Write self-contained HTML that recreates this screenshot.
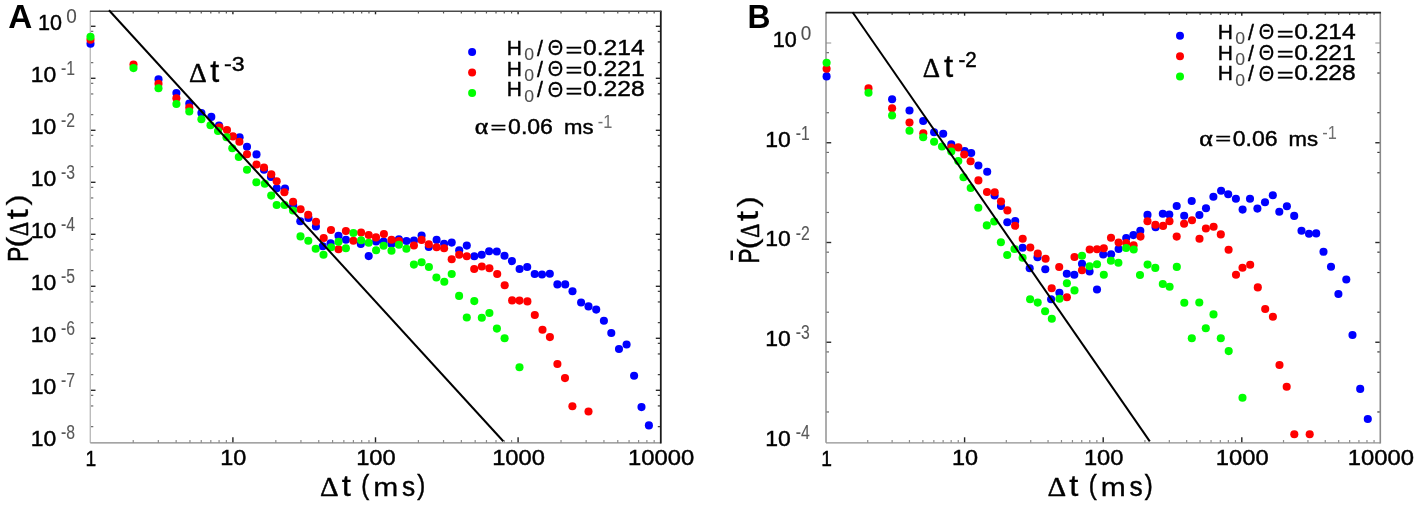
<!DOCTYPE html>
<html><head><meta charset="utf-8"><title>Figure</title>
<style>
html,body{margin:0;padding:0;background:#fff;}
body{width:1417px;height:505px;overflow:hidden;font-family:"Liberation Sans",sans-serif;}
svg{will-change:transform;}
svg text{white-space:pre;}
</style></head><body>
<svg width="1417" height="505" viewBox="0 0 1417 505" style="display:block">
<rect width="1417" height="505" fill="#fff"/>
<line x1="133.23" y1="442.80" x2="133.23" y2="440.00" stroke="#8c8c8c" stroke-width="1.2"/>
<line x1="133.23" y1="11.30" x2="133.23" y2="13.50" stroke="#555" stroke-width="1.2"/>
<line x1="158.34" y1="442.80" x2="158.34" y2="440.00" stroke="#8c8c8c" stroke-width="1.2"/>
<line x1="158.34" y1="11.30" x2="158.34" y2="13.50" stroke="#555" stroke-width="1.2"/>
<line x1="176.15" y1="442.80" x2="176.15" y2="440.00" stroke="#8c8c8c" stroke-width="1.2"/>
<line x1="176.15" y1="11.30" x2="176.15" y2="13.50" stroke="#555" stroke-width="1.2"/>
<line x1="189.97" y1="442.80" x2="189.97" y2="440.00" stroke="#8c8c8c" stroke-width="1.2"/>
<line x1="189.97" y1="11.30" x2="189.97" y2="13.50" stroke="#555" stroke-width="1.2"/>
<line x1="201.26" y1="442.80" x2="201.26" y2="440.00" stroke="#8c8c8c" stroke-width="1.2"/>
<line x1="201.26" y1="11.30" x2="201.26" y2="13.50" stroke="#555" stroke-width="1.2"/>
<line x1="210.81" y1="442.80" x2="210.81" y2="440.00" stroke="#8c8c8c" stroke-width="1.2"/>
<line x1="210.81" y1="11.30" x2="210.81" y2="13.50" stroke="#555" stroke-width="1.2"/>
<line x1="219.08" y1="442.80" x2="219.08" y2="440.00" stroke="#8c8c8c" stroke-width="1.2"/>
<line x1="219.08" y1="11.30" x2="219.08" y2="13.50" stroke="#555" stroke-width="1.2"/>
<line x1="226.37" y1="442.80" x2="226.37" y2="440.00" stroke="#8c8c8c" stroke-width="1.2"/>
<line x1="226.37" y1="11.30" x2="226.37" y2="13.50" stroke="#555" stroke-width="1.2"/>
<line x1="232.90" y1="442.80" x2="232.90" y2="437.30" stroke="#222" stroke-width="1.4"/>
<line x1="232.90" y1="11.30" x2="232.90" y2="14.30" stroke="#222" stroke-width="1.4"/>
<line x1="275.83" y1="442.80" x2="275.83" y2="440.00" stroke="#8c8c8c" stroke-width="1.2"/>
<line x1="275.83" y1="11.30" x2="275.83" y2="13.50" stroke="#555" stroke-width="1.2"/>
<line x1="300.94" y1="442.80" x2="300.94" y2="440.00" stroke="#8c8c8c" stroke-width="1.2"/>
<line x1="300.94" y1="11.30" x2="300.94" y2="13.50" stroke="#555" stroke-width="1.2"/>
<line x1="318.75" y1="442.80" x2="318.75" y2="440.00" stroke="#8c8c8c" stroke-width="1.2"/>
<line x1="318.75" y1="11.30" x2="318.75" y2="13.50" stroke="#555" stroke-width="1.2"/>
<line x1="332.57" y1="442.80" x2="332.57" y2="440.00" stroke="#8c8c8c" stroke-width="1.2"/>
<line x1="332.57" y1="11.30" x2="332.57" y2="13.50" stroke="#555" stroke-width="1.2"/>
<line x1="343.86" y1="442.80" x2="343.86" y2="440.00" stroke="#8c8c8c" stroke-width="1.2"/>
<line x1="343.86" y1="11.30" x2="343.86" y2="13.50" stroke="#555" stroke-width="1.2"/>
<line x1="353.41" y1="442.80" x2="353.41" y2="440.00" stroke="#8c8c8c" stroke-width="1.2"/>
<line x1="353.41" y1="11.30" x2="353.41" y2="13.50" stroke="#555" stroke-width="1.2"/>
<line x1="361.68" y1="442.80" x2="361.68" y2="440.00" stroke="#8c8c8c" stroke-width="1.2"/>
<line x1="361.68" y1="11.30" x2="361.68" y2="13.50" stroke="#555" stroke-width="1.2"/>
<line x1="368.97" y1="442.80" x2="368.97" y2="440.00" stroke="#8c8c8c" stroke-width="1.2"/>
<line x1="368.97" y1="11.30" x2="368.97" y2="13.50" stroke="#555" stroke-width="1.2"/>
<line x1="375.50" y1="442.80" x2="375.50" y2="437.30" stroke="#222" stroke-width="1.4"/>
<line x1="375.50" y1="11.30" x2="375.50" y2="14.30" stroke="#222" stroke-width="1.4"/>
<line x1="418.43" y1="442.80" x2="418.43" y2="440.00" stroke="#8c8c8c" stroke-width="1.2"/>
<line x1="418.43" y1="11.30" x2="418.43" y2="13.50" stroke="#555" stroke-width="1.2"/>
<line x1="443.54" y1="442.80" x2="443.54" y2="440.00" stroke="#8c8c8c" stroke-width="1.2"/>
<line x1="443.54" y1="11.30" x2="443.54" y2="13.50" stroke="#555" stroke-width="1.2"/>
<line x1="461.35" y1="442.80" x2="461.35" y2="440.00" stroke="#8c8c8c" stroke-width="1.2"/>
<line x1="461.35" y1="11.30" x2="461.35" y2="13.50" stroke="#555" stroke-width="1.2"/>
<line x1="475.17" y1="442.80" x2="475.17" y2="440.00" stroke="#8c8c8c" stroke-width="1.2"/>
<line x1="475.17" y1="11.30" x2="475.17" y2="13.50" stroke="#555" stroke-width="1.2"/>
<line x1="486.46" y1="442.80" x2="486.46" y2="440.00" stroke="#8c8c8c" stroke-width="1.2"/>
<line x1="486.46" y1="11.30" x2="486.46" y2="13.50" stroke="#555" stroke-width="1.2"/>
<line x1="496.01" y1="442.80" x2="496.01" y2="440.00" stroke="#8c8c8c" stroke-width="1.2"/>
<line x1="496.01" y1="11.30" x2="496.01" y2="13.50" stroke="#555" stroke-width="1.2"/>
<line x1="504.28" y1="442.80" x2="504.28" y2="440.00" stroke="#8c8c8c" stroke-width="1.2"/>
<line x1="504.28" y1="11.30" x2="504.28" y2="13.50" stroke="#555" stroke-width="1.2"/>
<line x1="511.57" y1="442.80" x2="511.57" y2="440.00" stroke="#8c8c8c" stroke-width="1.2"/>
<line x1="511.57" y1="11.30" x2="511.57" y2="13.50" stroke="#555" stroke-width="1.2"/>
<line x1="518.10" y1="442.80" x2="518.10" y2="437.30" stroke="#222" stroke-width="1.4"/>
<line x1="518.10" y1="11.30" x2="518.10" y2="14.30" stroke="#222" stroke-width="1.4"/>
<line x1="561.03" y1="442.80" x2="561.03" y2="440.00" stroke="#8c8c8c" stroke-width="1.2"/>
<line x1="561.03" y1="11.30" x2="561.03" y2="13.50" stroke="#555" stroke-width="1.2"/>
<line x1="586.14" y1="442.80" x2="586.14" y2="440.00" stroke="#8c8c8c" stroke-width="1.2"/>
<line x1="586.14" y1="11.30" x2="586.14" y2="13.50" stroke="#555" stroke-width="1.2"/>
<line x1="603.95" y1="442.80" x2="603.95" y2="440.00" stroke="#8c8c8c" stroke-width="1.2"/>
<line x1="603.95" y1="11.30" x2="603.95" y2="13.50" stroke="#555" stroke-width="1.2"/>
<line x1="617.77" y1="442.80" x2="617.77" y2="440.00" stroke="#8c8c8c" stroke-width="1.2"/>
<line x1="617.77" y1="11.30" x2="617.77" y2="13.50" stroke="#555" stroke-width="1.2"/>
<line x1="629.06" y1="442.80" x2="629.06" y2="440.00" stroke="#8c8c8c" stroke-width="1.2"/>
<line x1="629.06" y1="11.30" x2="629.06" y2="13.50" stroke="#555" stroke-width="1.2"/>
<line x1="638.61" y1="442.80" x2="638.61" y2="440.00" stroke="#8c8c8c" stroke-width="1.2"/>
<line x1="638.61" y1="11.30" x2="638.61" y2="13.50" stroke="#555" stroke-width="1.2"/>
<line x1="646.88" y1="442.80" x2="646.88" y2="440.00" stroke="#8c8c8c" stroke-width="1.2"/>
<line x1="646.88" y1="11.30" x2="646.88" y2="13.50" stroke="#555" stroke-width="1.2"/>
<line x1="654.17" y1="442.80" x2="654.17" y2="440.00" stroke="#8c8c8c" stroke-width="1.2"/>
<line x1="654.17" y1="11.30" x2="654.17" y2="13.50" stroke="#555" stroke-width="1.2"/>
<line x1="90.30" y1="26.30" x2="95.50" y2="26.30" stroke="#2a2a2a" stroke-width="1.4"/>
<line x1="660.80" y1="26.30" x2="655.80" y2="26.30" stroke="#2a2a2a" stroke-width="1.4"/>
<line x1="90.30" y1="62.65" x2="93.30" y2="62.65" stroke="#6a6a6a" stroke-width="1.2"/>
<line x1="660.80" y1="62.65" x2="657.80" y2="62.65" stroke="#3a3a3a" stroke-width="1.2"/>
<line x1="90.30" y1="41.95" x2="93.30" y2="41.95" stroke="#6a6a6a" stroke-width="1.2"/>
<line x1="660.80" y1="41.95" x2="657.80" y2="41.95" stroke="#3a3a3a" stroke-width="1.2"/>
<line x1="90.30" y1="31.34" x2="93.30" y2="31.34" stroke="#6a6a6a" stroke-width="1.2"/>
<line x1="660.80" y1="31.34" x2="657.80" y2="31.34" stroke="#3a3a3a" stroke-width="1.2"/>
<line x1="90.30" y1="78.30" x2="95.50" y2="78.30" stroke="#2a2a2a" stroke-width="1.4"/>
<line x1="660.80" y1="78.30" x2="655.80" y2="78.30" stroke="#2a2a2a" stroke-width="1.4"/>
<line x1="90.30" y1="114.65" x2="93.30" y2="114.65" stroke="#6a6a6a" stroke-width="1.2"/>
<line x1="660.80" y1="114.65" x2="657.80" y2="114.65" stroke="#3a3a3a" stroke-width="1.2"/>
<line x1="90.30" y1="93.95" x2="93.30" y2="93.95" stroke="#6a6a6a" stroke-width="1.2"/>
<line x1="660.80" y1="93.95" x2="657.80" y2="93.95" stroke="#3a3a3a" stroke-width="1.2"/>
<line x1="90.30" y1="83.34" x2="93.30" y2="83.34" stroke="#6a6a6a" stroke-width="1.2"/>
<line x1="660.80" y1="83.34" x2="657.80" y2="83.34" stroke="#3a3a3a" stroke-width="1.2"/>
<line x1="90.30" y1="130.30" x2="95.50" y2="130.30" stroke="#2a2a2a" stroke-width="1.4"/>
<line x1="660.80" y1="130.30" x2="655.80" y2="130.30" stroke="#2a2a2a" stroke-width="1.4"/>
<line x1="90.30" y1="166.65" x2="93.30" y2="166.65" stroke="#6a6a6a" stroke-width="1.2"/>
<line x1="660.80" y1="166.65" x2="657.80" y2="166.65" stroke="#3a3a3a" stroke-width="1.2"/>
<line x1="90.30" y1="145.95" x2="93.30" y2="145.95" stroke="#6a6a6a" stroke-width="1.2"/>
<line x1="660.80" y1="145.95" x2="657.80" y2="145.95" stroke="#3a3a3a" stroke-width="1.2"/>
<line x1="90.30" y1="135.34" x2="93.30" y2="135.34" stroke="#6a6a6a" stroke-width="1.2"/>
<line x1="660.80" y1="135.34" x2="657.80" y2="135.34" stroke="#3a3a3a" stroke-width="1.2"/>
<line x1="90.30" y1="182.30" x2="95.50" y2="182.30" stroke="#2a2a2a" stroke-width="1.4"/>
<line x1="660.80" y1="182.30" x2="655.80" y2="182.30" stroke="#2a2a2a" stroke-width="1.4"/>
<line x1="90.30" y1="218.65" x2="93.30" y2="218.65" stroke="#6a6a6a" stroke-width="1.2"/>
<line x1="660.80" y1="218.65" x2="657.80" y2="218.65" stroke="#3a3a3a" stroke-width="1.2"/>
<line x1="90.30" y1="197.95" x2="93.30" y2="197.95" stroke="#6a6a6a" stroke-width="1.2"/>
<line x1="660.80" y1="197.95" x2="657.80" y2="197.95" stroke="#3a3a3a" stroke-width="1.2"/>
<line x1="90.30" y1="187.34" x2="93.30" y2="187.34" stroke="#6a6a6a" stroke-width="1.2"/>
<line x1="660.80" y1="187.34" x2="657.80" y2="187.34" stroke="#3a3a3a" stroke-width="1.2"/>
<line x1="90.30" y1="234.30" x2="95.50" y2="234.30" stroke="#2a2a2a" stroke-width="1.4"/>
<line x1="660.80" y1="234.30" x2="655.80" y2="234.30" stroke="#2a2a2a" stroke-width="1.4"/>
<line x1="90.30" y1="270.65" x2="93.30" y2="270.65" stroke="#6a6a6a" stroke-width="1.2"/>
<line x1="660.80" y1="270.65" x2="657.80" y2="270.65" stroke="#3a3a3a" stroke-width="1.2"/>
<line x1="90.30" y1="249.95" x2="93.30" y2="249.95" stroke="#6a6a6a" stroke-width="1.2"/>
<line x1="660.80" y1="249.95" x2="657.80" y2="249.95" stroke="#3a3a3a" stroke-width="1.2"/>
<line x1="90.30" y1="239.34" x2="93.30" y2="239.34" stroke="#6a6a6a" stroke-width="1.2"/>
<line x1="660.80" y1="239.34" x2="657.80" y2="239.34" stroke="#3a3a3a" stroke-width="1.2"/>
<line x1="90.30" y1="286.30" x2="95.50" y2="286.30" stroke="#2a2a2a" stroke-width="1.4"/>
<line x1="660.80" y1="286.30" x2="655.80" y2="286.30" stroke="#2a2a2a" stroke-width="1.4"/>
<line x1="90.30" y1="322.65" x2="93.30" y2="322.65" stroke="#6a6a6a" stroke-width="1.2"/>
<line x1="660.80" y1="322.65" x2="657.80" y2="322.65" stroke="#3a3a3a" stroke-width="1.2"/>
<line x1="90.30" y1="301.95" x2="93.30" y2="301.95" stroke="#6a6a6a" stroke-width="1.2"/>
<line x1="660.80" y1="301.95" x2="657.80" y2="301.95" stroke="#3a3a3a" stroke-width="1.2"/>
<line x1="90.30" y1="291.34" x2="93.30" y2="291.34" stroke="#6a6a6a" stroke-width="1.2"/>
<line x1="660.80" y1="291.34" x2="657.80" y2="291.34" stroke="#3a3a3a" stroke-width="1.2"/>
<line x1="90.30" y1="338.30" x2="95.50" y2="338.30" stroke="#2a2a2a" stroke-width="1.4"/>
<line x1="660.80" y1="338.30" x2="655.80" y2="338.30" stroke="#2a2a2a" stroke-width="1.4"/>
<line x1="90.30" y1="374.65" x2="93.30" y2="374.65" stroke="#6a6a6a" stroke-width="1.2"/>
<line x1="660.80" y1="374.65" x2="657.80" y2="374.65" stroke="#3a3a3a" stroke-width="1.2"/>
<line x1="90.30" y1="353.95" x2="93.30" y2="353.95" stroke="#6a6a6a" stroke-width="1.2"/>
<line x1="660.80" y1="353.95" x2="657.80" y2="353.95" stroke="#3a3a3a" stroke-width="1.2"/>
<line x1="90.30" y1="343.34" x2="93.30" y2="343.34" stroke="#6a6a6a" stroke-width="1.2"/>
<line x1="660.80" y1="343.34" x2="657.80" y2="343.34" stroke="#3a3a3a" stroke-width="1.2"/>
<line x1="90.30" y1="390.30" x2="95.50" y2="390.30" stroke="#2a2a2a" stroke-width="1.4"/>
<line x1="660.80" y1="390.30" x2="655.80" y2="390.30" stroke="#2a2a2a" stroke-width="1.4"/>
<line x1="90.30" y1="426.65" x2="93.30" y2="426.65" stroke="#6a6a6a" stroke-width="1.2"/>
<line x1="660.80" y1="426.65" x2="657.80" y2="426.65" stroke="#3a3a3a" stroke-width="1.2"/>
<line x1="90.30" y1="405.95" x2="93.30" y2="405.95" stroke="#6a6a6a" stroke-width="1.2"/>
<line x1="660.80" y1="405.95" x2="657.80" y2="405.95" stroke="#3a3a3a" stroke-width="1.2"/>
<line x1="90.30" y1="395.34" x2="93.30" y2="395.34" stroke="#6a6a6a" stroke-width="1.2"/>
<line x1="660.80" y1="395.34" x2="657.80" y2="395.34" stroke="#3a3a3a" stroke-width="1.2"/>
<line x1="90.30" y1="11.30" x2="90.30" y2="442.80" stroke="#bcbcbc" stroke-width="1.4"/>
<line x1="90.30" y1="442.80" x2="660.80" y2="442.80" stroke="#868686" stroke-width="1.3"/>
<line x1="660.80" y1="10.70" x2="660.80" y2="443.40" stroke="#1c1c1c" stroke-width="1.8"/>
<line x1="89.90" y1="11.30" x2="661.40" y2="11.30" stroke="#4a4a4a" stroke-width="1.4"/>
<g fill="#0000ff"><circle cx="90.5" cy="43.8" r="4.05"/><circle cx="158.5" cy="79.4" r="4.05"/><circle cx="176.4" cy="93.0" r="4.05"/><circle cx="189.3" cy="103.5" r="4.05"/><circle cx="201.4" cy="113.0" r="4.05"/><circle cx="211.3" cy="116.9" r="4.05"/><circle cx="219.0" cy="125.5" r="4.05"/><circle cx="239.6" cy="137.3" r="4.05"/><circle cx="247.0" cy="146.8" r="4.05"/><circle cx="256.5" cy="154.4" r="4.05"/><circle cx="264.0" cy="169.8" r="4.05"/><circle cx="271.0" cy="177.0" r="4.05"/><circle cx="276.7" cy="188.2" r="4.05"/><circle cx="285.0" cy="188.5" r="4.05"/><circle cx="293.2" cy="205.5" r="4.05"/><circle cx="300.3" cy="221.3" r="4.05"/><circle cx="308.5" cy="218.0" r="4.05"/><circle cx="315.9" cy="226.5" r="4.05"/><circle cx="322.7" cy="246.2" r="4.05"/><circle cx="330.6" cy="243.3" r="4.05"/><circle cx="338.5" cy="235.8" r="4.05"/><circle cx="345.9" cy="239.8" r="4.05"/><circle cx="360.8" cy="244.0" r="4.05"/><circle cx="368.7" cy="256.1" r="4.05"/><circle cx="376.1" cy="241.5" r="4.05"/><circle cx="383.6" cy="241.5" r="4.05"/><circle cx="391.5" cy="244.0" r="4.05"/><circle cx="398.9" cy="239.3" r="4.05"/><circle cx="406.5" cy="241.0" r="4.05"/><circle cx="414.0" cy="240.5" r="4.05"/><circle cx="421.6" cy="235.6" r="4.05"/><circle cx="428.8" cy="247.0" r="4.05"/><circle cx="436.6" cy="239.9" r="4.05"/><circle cx="444.1" cy="243.8" r="4.05"/><circle cx="451.7" cy="242.6" r="4.05"/><circle cx="459.2" cy="250.2" r="4.05"/><circle cx="466.8" cy="245.6" r="4.05"/><circle cx="474.3" cy="256.2" r="4.05"/><circle cx="481.7" cy="254.7" r="4.05"/><circle cx="489.1" cy="251.2" r="4.05"/><circle cx="496.8" cy="251.5" r="4.05"/><circle cx="504.5" cy="255.7" r="4.05"/><circle cx="511.9" cy="261.1" r="4.05"/><circle cx="519.6" cy="269.0" r="4.05"/><circle cx="527.2" cy="267.0" r="4.05"/><circle cx="534.7" cy="274.0" r="4.05"/><circle cx="542.0" cy="274.5" r="4.05"/><circle cx="549.8" cy="273.8" r="4.05"/><circle cx="557.4" cy="284.4" r="4.05"/><circle cx="565.2" cy="284.4" r="4.05"/><circle cx="572.5" cy="291.3" r="4.05"/><circle cx="581.1" cy="302.5" r="4.05"/><circle cx="588.5" cy="306.4" r="4.05"/><circle cx="596.2" cy="309.6" r="4.05"/><circle cx="603.9" cy="320.7" r="4.05"/><circle cx="611.3" cy="333.0" r="4.05"/><circle cx="619.0" cy="349.0" r="4.05"/><circle cx="626.6" cy="344.5" r="4.05"/><circle cx="634.1" cy="375.8" r="4.05"/><circle cx="641.5" cy="407.1" r="4.05"/><circle cx="648.9" cy="425.4" r="4.05"/></g>
<g fill="#ff0000"><circle cx="90.5" cy="39.7" r="4.05"/><circle cx="133.5" cy="64.5" r="4.05"/><circle cx="158.5" cy="83.8" r="4.05"/><circle cx="176.4" cy="98.3" r="4.05"/><circle cx="189.3" cy="107.5" r="4.05"/><circle cx="219.5" cy="127.3" r="4.05"/><circle cx="227.0" cy="130.0" r="4.05"/><circle cx="232.9" cy="136.4" r="4.05"/><circle cx="239.4" cy="141.8" r="4.05"/><circle cx="247.0" cy="154.2" r="4.05"/><circle cx="256.5" cy="164.5" r="4.05"/><circle cx="264.0" cy="167.5" r="4.05"/><circle cx="271.3" cy="174.3" r="4.05"/><circle cx="276.7" cy="181.3" r="4.05"/><circle cx="284.4" cy="192.2" r="4.05"/><circle cx="293.1" cy="201.8" r="4.05"/><circle cx="300.6" cy="209.3" r="4.05"/><circle cx="308.2" cy="214.8" r="4.05"/><circle cx="316.0" cy="221.7" r="4.05"/><circle cx="323.7" cy="238.0" r="4.05"/><circle cx="331.0" cy="230.0" r="4.05"/><circle cx="338.5" cy="249.2" r="4.05"/><circle cx="345.9" cy="231.0" r="4.05"/><circle cx="353.4" cy="240.8" r="4.05"/><circle cx="361.1" cy="232.5" r="4.05"/><circle cx="368.7" cy="235.0" r="4.05"/><circle cx="376.0" cy="237.4" r="4.05"/><circle cx="383.9" cy="234.0" r="4.05"/><circle cx="391.5" cy="239.7" r="4.05"/><circle cx="398.9" cy="241.0" r="4.05"/><circle cx="413.9" cy="245.5" r="4.05"/><circle cx="421.6" cy="239.9" r="4.05"/><circle cx="428.8" cy="244.3" r="4.05"/><circle cx="436.6" cy="247.3" r="4.05"/><circle cx="444.1" cy="248.3" r="4.05"/><circle cx="451.7" cy="259.2" r="4.05"/><circle cx="459.2" cy="254.7" r="4.05"/><circle cx="466.8" cy="256.2" r="4.05"/><circle cx="474.2" cy="269.0" r="4.05"/><circle cx="481.8" cy="266.5" r="4.05"/><circle cx="489.4" cy="268.3" r="4.05"/><circle cx="497.2" cy="274.0" r="4.05"/><circle cx="504.7" cy="285.3" r="4.05"/><circle cx="512.1" cy="300.4" r="4.05"/><circle cx="519.5" cy="300.6" r="4.05"/><circle cx="527.4" cy="301.4" r="4.05"/><circle cx="534.8" cy="315.0" r="4.05"/><circle cx="542.5" cy="329.8" r="4.05"/><circle cx="549.9" cy="337.1" r="4.05"/><circle cx="557.4" cy="364.0" r="4.05"/><circle cx="565.0" cy="378.1" r="4.05"/><circle cx="572.4" cy="406.3" r="4.05"/><circle cx="588.5" cy="411.5" r="4.05"/></g>
<g fill="#00ff00"><circle cx="90.5" cy="36.8" r="4.05"/><circle cx="133.5" cy="68.1" r="4.05"/><circle cx="158.5" cy="88.3" r="4.05"/><circle cx="176.4" cy="104.0" r="4.05"/><circle cx="189.3" cy="111.5" r="4.05"/><circle cx="201.4" cy="119.2" r="4.05"/><circle cx="210.5" cy="125.2" r="4.05"/><circle cx="218.0" cy="131.0" r="4.05"/><circle cx="226.5" cy="137.3" r="4.05"/><circle cx="232.3" cy="148.2" r="4.05"/><circle cx="238.8" cy="157.0" r="4.05"/><circle cx="247.0" cy="169.8" r="4.05"/><circle cx="256.4" cy="182.3" r="4.05"/><circle cx="264.8" cy="183.8" r="4.05"/><circle cx="271.2" cy="195.6" r="4.05"/><circle cx="276.7" cy="205.0" r="4.05"/><circle cx="284.6" cy="205.0" r="4.05"/><circle cx="293.0" cy="210.5" r="4.05"/><circle cx="300.5" cy="236.4" r="4.05"/><circle cx="308.3" cy="240.7" r="4.05"/><circle cx="315.7" cy="248.7" r="4.05"/><circle cx="323.5" cy="254.7" r="4.05"/><circle cx="331.1" cy="247.2" r="4.05"/><circle cx="338.5" cy="241.8" r="4.05"/><circle cx="345.9" cy="248.2" r="4.05"/><circle cx="353.4" cy="233.0" r="4.05"/><circle cx="361.1" cy="240.3" r="4.05"/><circle cx="368.7" cy="242.8" r="4.05"/><circle cx="376.1" cy="250.2" r="4.05"/><circle cx="383.6" cy="245.7" r="4.05"/><circle cx="391.5" cy="250.7" r="4.05"/><circle cx="398.9" cy="244.8" r="4.05"/><circle cx="406.4" cy="248.7" r="4.05"/><circle cx="413.9" cy="264.6" r="4.05"/><circle cx="421.6" cy="262.3" r="4.05"/><circle cx="428.9" cy="267.0" r="4.05"/><circle cx="436.4" cy="277.5" r="4.05"/><circle cx="444.3" cy="281.8" r="4.05"/><circle cx="451.7" cy="274.0" r="4.05"/><circle cx="459.1" cy="295.9" r="4.05"/><circle cx="466.8" cy="317.5" r="4.05"/><circle cx="474.3" cy="301.1" r="4.05"/><circle cx="481.8" cy="317.7" r="4.05"/><circle cx="489.4" cy="313.0" r="4.05"/><circle cx="496.9" cy="328.6" r="4.05"/><circle cx="504.6" cy="338.2" r="4.05"/><circle cx="519.5" cy="367.2" r="4.05"/></g>
<line x1="109.00" y1="10.30" x2="503.30" y2="441.20" stroke="#000" stroke-width="2.0"/>
<line x1="867.72" y1="442.80" x2="867.72" y2="440.00" stroke="#8c8c8c" stroke-width="1.2"/>
<line x1="867.72" y1="12.70" x2="867.72" y2="14.90" stroke="#555" stroke-width="1.2"/>
<line x1="892.13" y1="442.80" x2="892.13" y2="440.00" stroke="#8c8c8c" stroke-width="1.2"/>
<line x1="892.13" y1="12.70" x2="892.13" y2="14.90" stroke="#555" stroke-width="1.2"/>
<line x1="909.45" y1="442.80" x2="909.45" y2="440.00" stroke="#8c8c8c" stroke-width="1.2"/>
<line x1="909.45" y1="12.70" x2="909.45" y2="14.90" stroke="#555" stroke-width="1.2"/>
<line x1="922.88" y1="442.80" x2="922.88" y2="440.00" stroke="#8c8c8c" stroke-width="1.2"/>
<line x1="922.88" y1="12.70" x2="922.88" y2="14.90" stroke="#555" stroke-width="1.2"/>
<line x1="933.85" y1="442.80" x2="933.85" y2="440.00" stroke="#8c8c8c" stroke-width="1.2"/>
<line x1="933.85" y1="12.70" x2="933.85" y2="14.90" stroke="#555" stroke-width="1.2"/>
<line x1="943.13" y1="442.80" x2="943.13" y2="440.00" stroke="#8c8c8c" stroke-width="1.2"/>
<line x1="943.13" y1="12.70" x2="943.13" y2="14.90" stroke="#555" stroke-width="1.2"/>
<line x1="951.17" y1="442.80" x2="951.17" y2="440.00" stroke="#8c8c8c" stroke-width="1.2"/>
<line x1="951.17" y1="12.70" x2="951.17" y2="14.90" stroke="#555" stroke-width="1.2"/>
<line x1="958.26" y1="442.80" x2="958.26" y2="440.00" stroke="#8c8c8c" stroke-width="1.2"/>
<line x1="958.26" y1="12.70" x2="958.26" y2="14.90" stroke="#555" stroke-width="1.2"/>
<line x1="964.60" y1="442.80" x2="964.60" y2="437.30" stroke="#222" stroke-width="1.4"/>
<line x1="964.60" y1="12.70" x2="964.60" y2="15.70" stroke="#222" stroke-width="1.4"/>
<line x1="1006.32" y1="442.80" x2="1006.32" y2="440.00" stroke="#8c8c8c" stroke-width="1.2"/>
<line x1="1006.32" y1="12.70" x2="1006.32" y2="14.90" stroke="#555" stroke-width="1.2"/>
<line x1="1030.73" y1="442.80" x2="1030.73" y2="440.00" stroke="#8c8c8c" stroke-width="1.2"/>
<line x1="1030.73" y1="12.70" x2="1030.73" y2="14.90" stroke="#555" stroke-width="1.2"/>
<line x1="1048.05" y1="442.80" x2="1048.05" y2="440.00" stroke="#8c8c8c" stroke-width="1.2"/>
<line x1="1048.05" y1="12.70" x2="1048.05" y2="14.90" stroke="#555" stroke-width="1.2"/>
<line x1="1061.48" y1="442.80" x2="1061.48" y2="440.00" stroke="#8c8c8c" stroke-width="1.2"/>
<line x1="1061.48" y1="12.70" x2="1061.48" y2="14.90" stroke="#555" stroke-width="1.2"/>
<line x1="1072.45" y1="442.80" x2="1072.45" y2="440.00" stroke="#8c8c8c" stroke-width="1.2"/>
<line x1="1072.45" y1="12.70" x2="1072.45" y2="14.90" stroke="#555" stroke-width="1.2"/>
<line x1="1081.73" y1="442.80" x2="1081.73" y2="440.00" stroke="#8c8c8c" stroke-width="1.2"/>
<line x1="1081.73" y1="12.70" x2="1081.73" y2="14.90" stroke="#555" stroke-width="1.2"/>
<line x1="1089.77" y1="442.80" x2="1089.77" y2="440.00" stroke="#8c8c8c" stroke-width="1.2"/>
<line x1="1089.77" y1="12.70" x2="1089.77" y2="14.90" stroke="#555" stroke-width="1.2"/>
<line x1="1096.86" y1="442.80" x2="1096.86" y2="440.00" stroke="#8c8c8c" stroke-width="1.2"/>
<line x1="1096.86" y1="12.70" x2="1096.86" y2="14.90" stroke="#555" stroke-width="1.2"/>
<line x1="1103.20" y1="442.80" x2="1103.20" y2="437.30" stroke="#222" stroke-width="1.4"/>
<line x1="1103.20" y1="12.70" x2="1103.20" y2="15.70" stroke="#222" stroke-width="1.4"/>
<line x1="1144.92" y1="442.80" x2="1144.92" y2="440.00" stroke="#8c8c8c" stroke-width="1.2"/>
<line x1="1144.92" y1="12.70" x2="1144.92" y2="14.90" stroke="#555" stroke-width="1.2"/>
<line x1="1169.33" y1="442.80" x2="1169.33" y2="440.00" stroke="#8c8c8c" stroke-width="1.2"/>
<line x1="1169.33" y1="12.70" x2="1169.33" y2="14.90" stroke="#555" stroke-width="1.2"/>
<line x1="1186.65" y1="442.80" x2="1186.65" y2="440.00" stroke="#8c8c8c" stroke-width="1.2"/>
<line x1="1186.65" y1="12.70" x2="1186.65" y2="14.90" stroke="#555" stroke-width="1.2"/>
<line x1="1200.08" y1="442.80" x2="1200.08" y2="440.00" stroke="#8c8c8c" stroke-width="1.2"/>
<line x1="1200.08" y1="12.70" x2="1200.08" y2="14.90" stroke="#555" stroke-width="1.2"/>
<line x1="1211.05" y1="442.80" x2="1211.05" y2="440.00" stroke="#8c8c8c" stroke-width="1.2"/>
<line x1="1211.05" y1="12.70" x2="1211.05" y2="14.90" stroke="#555" stroke-width="1.2"/>
<line x1="1220.33" y1="442.80" x2="1220.33" y2="440.00" stroke="#8c8c8c" stroke-width="1.2"/>
<line x1="1220.33" y1="12.70" x2="1220.33" y2="14.90" stroke="#555" stroke-width="1.2"/>
<line x1="1228.37" y1="442.80" x2="1228.37" y2="440.00" stroke="#8c8c8c" stroke-width="1.2"/>
<line x1="1228.37" y1="12.70" x2="1228.37" y2="14.90" stroke="#555" stroke-width="1.2"/>
<line x1="1235.46" y1="442.80" x2="1235.46" y2="440.00" stroke="#8c8c8c" stroke-width="1.2"/>
<line x1="1235.46" y1="12.70" x2="1235.46" y2="14.90" stroke="#555" stroke-width="1.2"/>
<line x1="1241.80" y1="442.80" x2="1241.80" y2="437.30" stroke="#222" stroke-width="1.4"/>
<line x1="1241.80" y1="12.70" x2="1241.80" y2="15.70" stroke="#222" stroke-width="1.4"/>
<line x1="1283.52" y1="442.80" x2="1283.52" y2="440.00" stroke="#8c8c8c" stroke-width="1.2"/>
<line x1="1283.52" y1="12.70" x2="1283.52" y2="14.90" stroke="#555" stroke-width="1.2"/>
<line x1="1307.93" y1="442.80" x2="1307.93" y2="440.00" stroke="#8c8c8c" stroke-width="1.2"/>
<line x1="1307.93" y1="12.70" x2="1307.93" y2="14.90" stroke="#555" stroke-width="1.2"/>
<line x1="1325.25" y1="442.80" x2="1325.25" y2="440.00" stroke="#8c8c8c" stroke-width="1.2"/>
<line x1="1325.25" y1="12.70" x2="1325.25" y2="14.90" stroke="#555" stroke-width="1.2"/>
<line x1="1338.68" y1="442.80" x2="1338.68" y2="440.00" stroke="#8c8c8c" stroke-width="1.2"/>
<line x1="1338.68" y1="12.70" x2="1338.68" y2="14.90" stroke="#555" stroke-width="1.2"/>
<line x1="1349.65" y1="442.80" x2="1349.65" y2="440.00" stroke="#8c8c8c" stroke-width="1.2"/>
<line x1="1349.65" y1="12.70" x2="1349.65" y2="14.90" stroke="#555" stroke-width="1.2"/>
<line x1="1358.93" y1="442.80" x2="1358.93" y2="440.00" stroke="#8c8c8c" stroke-width="1.2"/>
<line x1="1358.93" y1="12.70" x2="1358.93" y2="14.90" stroke="#555" stroke-width="1.2"/>
<line x1="1366.97" y1="442.80" x2="1366.97" y2="440.00" stroke="#8c8c8c" stroke-width="1.2"/>
<line x1="1366.97" y1="12.70" x2="1366.97" y2="14.90" stroke="#555" stroke-width="1.2"/>
<line x1="1374.06" y1="442.80" x2="1374.06" y2="440.00" stroke="#8c8c8c" stroke-width="1.2"/>
<line x1="1374.06" y1="12.70" x2="1374.06" y2="14.90" stroke="#555" stroke-width="1.2"/>
<line x1="826.00" y1="43.00" x2="831.20" y2="43.00" stroke="#b0b0b0" stroke-width="1.4"/>
<line x1="1380.30" y1="43.00" x2="1375.30" y2="43.00" stroke="#b0b0b0" stroke-width="1.4"/>
<line x1="826.00" y1="112.72" x2="829.00" y2="112.72" stroke="#6a6a6a" stroke-width="1.2"/>
<line x1="1380.30" y1="112.72" x2="1377.30" y2="112.72" stroke="#3a3a3a" stroke-width="1.2"/>
<line x1="826.00" y1="73.03" x2="829.00" y2="73.03" stroke="#6a6a6a" stroke-width="1.2"/>
<line x1="1380.30" y1="73.03" x2="1377.30" y2="73.03" stroke="#3a3a3a" stroke-width="1.2"/>
<line x1="826.00" y1="52.67" x2="829.00" y2="52.67" stroke="#6a6a6a" stroke-width="1.2"/>
<line x1="1380.30" y1="52.67" x2="1377.30" y2="52.67" stroke="#3a3a3a" stroke-width="1.2"/>
<line x1="826.00" y1="142.75" x2="831.20" y2="142.75" stroke="#2a2a2a" stroke-width="1.4"/>
<line x1="1380.30" y1="142.75" x2="1375.30" y2="142.75" stroke="#2a2a2a" stroke-width="1.4"/>
<line x1="826.00" y1="212.47" x2="829.00" y2="212.47" stroke="#6a6a6a" stroke-width="1.2"/>
<line x1="1380.30" y1="212.47" x2="1377.30" y2="212.47" stroke="#3a3a3a" stroke-width="1.2"/>
<line x1="826.00" y1="172.78" x2="829.00" y2="172.78" stroke="#6a6a6a" stroke-width="1.2"/>
<line x1="1380.30" y1="172.78" x2="1377.30" y2="172.78" stroke="#3a3a3a" stroke-width="1.2"/>
<line x1="826.00" y1="152.42" x2="829.00" y2="152.42" stroke="#6a6a6a" stroke-width="1.2"/>
<line x1="1380.30" y1="152.42" x2="1377.30" y2="152.42" stroke="#3a3a3a" stroke-width="1.2"/>
<line x1="826.00" y1="242.50" x2="831.20" y2="242.50" stroke="#2a2a2a" stroke-width="1.4"/>
<line x1="1380.30" y1="242.50" x2="1375.30" y2="242.50" stroke="#2a2a2a" stroke-width="1.4"/>
<line x1="826.00" y1="312.22" x2="829.00" y2="312.22" stroke="#6a6a6a" stroke-width="1.2"/>
<line x1="1380.30" y1="312.22" x2="1377.30" y2="312.22" stroke="#3a3a3a" stroke-width="1.2"/>
<line x1="826.00" y1="272.53" x2="829.00" y2="272.53" stroke="#6a6a6a" stroke-width="1.2"/>
<line x1="1380.30" y1="272.53" x2="1377.30" y2="272.53" stroke="#3a3a3a" stroke-width="1.2"/>
<line x1="826.00" y1="252.17" x2="829.00" y2="252.17" stroke="#6a6a6a" stroke-width="1.2"/>
<line x1="1380.30" y1="252.17" x2="1377.30" y2="252.17" stroke="#3a3a3a" stroke-width="1.2"/>
<line x1="826.00" y1="342.25" x2="831.20" y2="342.25" stroke="#2a2a2a" stroke-width="1.4"/>
<line x1="1380.30" y1="342.25" x2="1375.30" y2="342.25" stroke="#2a2a2a" stroke-width="1.4"/>
<line x1="826.00" y1="411.97" x2="829.00" y2="411.97" stroke="#6a6a6a" stroke-width="1.2"/>
<line x1="1380.30" y1="411.97" x2="1377.30" y2="411.97" stroke="#3a3a3a" stroke-width="1.2"/>
<line x1="826.00" y1="372.28" x2="829.00" y2="372.28" stroke="#6a6a6a" stroke-width="1.2"/>
<line x1="1380.30" y1="372.28" x2="1377.30" y2="372.28" stroke="#3a3a3a" stroke-width="1.2"/>
<line x1="826.00" y1="351.92" x2="829.00" y2="351.92" stroke="#6a6a6a" stroke-width="1.2"/>
<line x1="1380.30" y1="351.92" x2="1377.30" y2="351.92" stroke="#3a3a3a" stroke-width="1.2"/>
<line x1="826.00" y1="12.70" x2="826.00" y2="442.80" stroke="#8a8a8a" stroke-width="1.4"/>
<line x1="826.00" y1="442.80" x2="1380.30" y2="442.80" stroke="#909090" stroke-width="1.3"/>
<line x1="1380.30" y1="12.10" x2="1380.30" y2="443.40" stroke="#8a8a8a" stroke-width="1.6"/>
<line x1="825.60" y1="12.70" x2="1380.90" y2="12.70" stroke="#1c1c1c" stroke-width="1.8"/>
<g fill="#0000ff"><circle cx="826.6" cy="76.4" r="4.05"/><circle cx="892.1" cy="99.3" r="4.05"/><circle cx="909.5" cy="110.5" r="4.05"/><circle cx="923.2" cy="121.0" r="4.05"/><circle cx="934.1" cy="132.3" r="4.05"/><circle cx="943.2" cy="133.8" r="4.05"/><circle cx="951.3" cy="144.4" r="4.05"/><circle cx="964.7" cy="151.0" r="4.05"/><circle cx="971.2" cy="153.0" r="4.05"/><circle cx="978.4" cy="165.5" r="4.05"/><circle cx="987.2" cy="171.7" r="4.05"/><circle cx="994.6" cy="195.5" r="4.05"/><circle cx="1001.0" cy="206.0" r="4.05"/><circle cx="1007.3" cy="222.2" r="4.05"/><circle cx="1015.2" cy="221.0" r="4.05"/><circle cx="1022.6" cy="247.8" r="4.05"/><circle cx="1029.7" cy="268.3" r="4.05"/><circle cx="1037.5" cy="257.2" r="4.05"/><circle cx="1045.3" cy="269.3" r="4.05"/><circle cx="1051.1" cy="299.3" r="4.05"/><circle cx="1059.4" cy="292.7" r="4.05"/><circle cx="1066.8" cy="273.7" r="4.05"/><circle cx="1074.3" cy="274.7" r="4.05"/><circle cx="1082.0" cy="263.8" r="4.05"/><circle cx="1089.6" cy="271.5" r="4.05"/><circle cx="1097.0" cy="289.5" r="4.05"/><circle cx="1103.2" cy="254.5" r="4.05"/><circle cx="1111.1" cy="254.3" r="4.05"/><circle cx="1118.6" cy="249.0" r="4.05"/><circle cx="1126.2" cy="238.1" r="4.05"/><circle cx="1133.4" cy="235.1" r="4.05"/><circle cx="1140.3" cy="230.7" r="4.05"/><circle cx="1147.5" cy="214.9" r="4.05"/><circle cx="1155.6" cy="227.2" r="4.05"/><circle cx="1162.8" cy="213.7" r="4.05"/><circle cx="1169.3" cy="214.5" r="4.05"/><circle cx="1176.7" cy="206.0" r="4.05"/><circle cx="1184.2" cy="215.7" r="4.05"/><circle cx="1191.7" cy="201.0" r="4.05"/><circle cx="1199.4" cy="215.0" r="4.05"/><circle cx="1206.0" cy="208.2" r="4.05"/><circle cx="1213.4" cy="196.7" r="4.05"/><circle cx="1221.1" cy="190.8" r="4.05"/><circle cx="1228.2" cy="194.3" r="4.05"/><circle cx="1235.9" cy="198.7" r="4.05"/><circle cx="1242.6" cy="209.6" r="4.05"/><circle cx="1250.0" cy="198.7" r="4.05"/><circle cx="1257.4" cy="208.6" r="4.05"/><circle cx="1265.0" cy="202.3" r="4.05"/><circle cx="1272.8" cy="195.3" r="4.05"/><circle cx="1279.3" cy="211.7" r="4.05"/><circle cx="1286.9" cy="206.2" r="4.05"/><circle cx="1294.2" cy="215.9" r="4.05"/><circle cx="1301.5" cy="230.8" r="4.05"/><circle cx="1309.0" cy="233.8" r="4.05"/><circle cx="1316.2" cy="233.4" r="4.05"/><circle cx="1323.5" cy="251.8" r="4.05"/><circle cx="1331.0" cy="266.8" r="4.05"/><circle cx="1338.4" cy="294.0" r="4.05"/><circle cx="1346.3" cy="279.5" r="4.05"/><circle cx="1352.5" cy="335.0" r="4.05"/><circle cx="1360.2" cy="388.9" r="4.05"/><circle cx="1367.8" cy="419.0" r="4.05"/></g>
<g fill="#ff0000"><circle cx="826.6" cy="68.7" r="4.05"/><circle cx="868.5" cy="88.4" r="4.05"/><circle cx="892.1" cy="108.2" r="4.05"/><circle cx="909.5" cy="122.6" r="4.05"/><circle cx="923.3" cy="133.3" r="4.05"/><circle cx="951.3" cy="147.5" r="4.05"/><circle cx="958.3" cy="147.4" r="4.05"/><circle cx="964.2" cy="154.5" r="4.05"/><circle cx="970.6" cy="161.3" r="4.05"/><circle cx="978.4" cy="180.4" r="4.05"/><circle cx="987.0" cy="192.0" r="4.05"/><circle cx="994.7" cy="192.3" r="4.05"/><circle cx="1001.0" cy="201.5" r="4.05"/><circle cx="1007.4" cy="210.4" r="4.05"/><circle cx="1015.1" cy="225.8" r="4.05"/><circle cx="1022.7" cy="238.7" r="4.05"/><circle cx="1030.3" cy="247.5" r="4.05"/><circle cx="1037.8" cy="253.5" r="4.05"/><circle cx="1045.6" cy="258.7" r="4.05"/><circle cx="1051.7" cy="288.3" r="4.05"/><circle cx="1059.2" cy="267.0" r="4.05"/><circle cx="1066.9" cy="297.3" r="4.05"/><circle cx="1074.5" cy="257.0" r="4.05"/><circle cx="1082.0" cy="270.2" r="4.05"/><circle cx="1089.7" cy="249.5" r="4.05"/><circle cx="1097.0" cy="249.3" r="4.05"/><circle cx="1103.8" cy="248.2" r="4.05"/><circle cx="1111.0" cy="237.7" r="4.05"/><circle cx="1118.6" cy="242.5" r="4.05"/><circle cx="1126.2" cy="243.0" r="4.05"/><circle cx="1133.6" cy="245.3" r="4.05"/><circle cx="1140.5" cy="236.6" r="4.05"/><circle cx="1147.5" cy="221.3" r="4.05"/><circle cx="1155.4" cy="224.8" r="4.05"/><circle cx="1163.1" cy="225.9" r="4.05"/><circle cx="1169.5" cy="221.3" r="4.05"/><circle cx="1176.7" cy="236.6" r="4.05"/><circle cx="1184.1" cy="223.8" r="4.05"/><circle cx="1192.0" cy="220.3" r="4.05"/><circle cx="1199.5" cy="238.7" r="4.05"/><circle cx="1205.9" cy="228.5" r="4.05"/><circle cx="1213.6" cy="226.7" r="4.05"/><circle cx="1220.8" cy="234.4" r="4.05"/><circle cx="1228.6" cy="249.7" r="4.05"/><circle cx="1236.0" cy="274.7" r="4.05"/><circle cx="1242.5" cy="267.8" r="4.05"/><circle cx="1250.2" cy="264.7" r="4.05"/><circle cx="1257.8" cy="287.4" r="4.05"/><circle cx="1265.2" cy="309.0" r="4.05"/><circle cx="1272.9" cy="316.7" r="4.05"/><circle cx="1279.5" cy="365.0" r="4.05"/><circle cx="1286.7" cy="386.7" r="4.05"/><circle cx="1294.3" cy="434.2" r="4.05"/><circle cx="1309.7" cy="434.2" r="4.05"/></g>
<g fill="#00ff00"><circle cx="826.6" cy="62.8" r="4.05"/><circle cx="868.5" cy="92.8" r="4.05"/><circle cx="892.1" cy="115.5" r="4.05"/><circle cx="909.5" cy="130.8" r="4.05"/><circle cx="923.2" cy="137.2" r="4.05"/><circle cx="934.1" cy="141.7" r="4.05"/><circle cx="942.0" cy="146.5" r="4.05"/><circle cx="951.3" cy="151.6" r="4.05"/><circle cx="958.3" cy="161.0" r="4.05"/><circle cx="963.5" cy="177.3" r="4.05"/><circle cx="970.7" cy="188.0" r="4.05"/><circle cx="978.3" cy="207.7" r="4.05"/><circle cx="986.8" cy="225.4" r="4.05"/><circle cx="994.2" cy="221.5" r="4.05"/><circle cx="1000.9" cy="242.2" r="4.05"/><circle cx="1007.2" cy="255.0" r="4.05"/><circle cx="1014.5" cy="249.0" r="4.05"/><circle cx="1022.6" cy="257.7" r="4.05"/><circle cx="1030.1" cy="299.3" r="4.05"/><circle cx="1037.7" cy="302.6" r="4.05"/><circle cx="1045.1" cy="311.2" r="4.05"/><circle cx="1051.8" cy="318.8" r="4.05"/><circle cx="1059.5" cy="298.8" r="4.05"/><circle cx="1066.9" cy="283.3" r="4.05"/><circle cx="1074.5" cy="290.4" r="4.05"/><circle cx="1082.0" cy="255.7" r="4.05"/><circle cx="1089.6" cy="266.3" r="4.05"/><circle cx="1097.0" cy="264.3" r="4.05"/><circle cx="1103.8" cy="274.7" r="4.05"/><circle cx="1110.9" cy="260.8" r="4.05"/><circle cx="1118.4" cy="262.7" r="4.05"/><circle cx="1126.1" cy="248.0" r="4.05"/><circle cx="1133.7" cy="249.5" r="4.05"/><circle cx="1140.0" cy="275.0" r="4.05"/><circle cx="1147.6" cy="264.6" r="4.05"/><circle cx="1155.3" cy="267.9" r="4.05"/><circle cx="1162.8" cy="284.0" r="4.05"/><circle cx="1169.6" cy="286.8" r="4.05"/><circle cx="1176.8" cy="266.9" r="4.05"/><circle cx="1184.3" cy="302.7" r="4.05"/><circle cx="1191.8" cy="338.2" r="4.05"/><circle cx="1199.3" cy="302.5" r="4.05"/><circle cx="1205.8" cy="328.3" r="4.05"/><circle cx="1213.5" cy="314.4" r="4.05"/><circle cx="1220.8" cy="338.2" r="4.05"/><circle cx="1228.7" cy="351.1" r="4.05"/><circle cx="1242.5" cy="397.7" r="4.05"/></g>
<line x1="852.60" y1="12.20" x2="1149.80" y2="441.40" stroke="#000" stroke-width="2.0"/>
<g fill="#0000ff"><circle cx="472.1" cy="52.0" r="4.0"/></g>
<g fill="#ff0000"><circle cx="472.1" cy="72.5" r="4.0"/></g>
<g fill="#00ff00"><circle cx="472.1" cy="93.0" r="4.0"/></g>
<g fill="#0000ff"><circle cx="1180.0" cy="35.8" r="4.0"/></g>
<g fill="#ff0000"><circle cx="1180.0" cy="56.3" r="4.0"/></g>
<g fill="#00ff00"><circle cx="1180.0" cy="76.6" r="4.0"/></g>
<text transform="matrix(0.16642 0 0 0.16957 8.32 28.45)" font-family="Liberation Sans" font-size="200" font-weight="bold" fill="#000">A</text>
<text transform="matrix(0.15902 0 0 0.16594 747.58 28.15)" font-family="Liberation Sans" font-size="200" font-weight="bold" fill="#000">B</text>
<text transform="matrix(0.10775 0 0 0.11021 38.06 29.90)" font-family="Liberation Sans" font-size="200" fill="#000" stroke="#000" stroke-width="4.13">10</text>
<text transform="matrix(0.09479 0 0 0.09859 66.14 22.90)" font-family="Liberation Sans" font-size="200" fill="#505050" stroke="#505050" stroke-width="1.03">0</text>
<text transform="matrix(0.11475 0 0 0.11232 30.65 82.20)" font-family="Liberation Sans" font-size="200" fill="#000" stroke="#000" stroke-width="3.96">10</text>
<text transform="matrix(0.07875 0 0 0.10000 60.99 75.40)" font-family="Liberation Sans" font-size="200" fill="#585858" stroke="#585858" stroke-width="1.12">-1</text>
<text transform="matrix(0.11475 0 0 0.11232 30.65 134.20)" font-family="Liberation Sans" font-size="200" fill="#000" stroke="#000" stroke-width="3.96">10</text>
<text transform="matrix(0.07875 0 0 0.10000 60.99 127.40)" font-family="Liberation Sans" font-size="200" fill="#585858" stroke="#585858" stroke-width="1.12">-2</text>
<text transform="matrix(0.11475 0 0 0.11232 30.65 186.20)" font-family="Liberation Sans" font-size="200" fill="#000" stroke="#000" stroke-width="3.96">10</text>
<text transform="matrix(0.07875 0 0 0.10000 60.99 179.40)" font-family="Liberation Sans" font-size="200" fill="#585858" stroke="#585858" stroke-width="1.12">-3</text>
<text transform="matrix(0.11475 0 0 0.11232 30.65 238.20)" font-family="Liberation Sans" font-size="200" fill="#000" stroke="#000" stroke-width="3.96">10</text>
<text transform="matrix(0.07875 0 0 0.10000 60.99 231.40)" font-family="Liberation Sans" font-size="200" fill="#585858" stroke="#585858" stroke-width="1.12">-4</text>
<text transform="matrix(0.11475 0 0 0.11232 30.65 290.20)" font-family="Liberation Sans" font-size="200" fill="#000" stroke="#000" stroke-width="3.96">10</text>
<text transform="matrix(0.07875 0 0 0.10000 60.99 283.40)" font-family="Liberation Sans" font-size="200" fill="#585858" stroke="#585858" stroke-width="1.12">-5</text>
<text transform="matrix(0.11475 0 0 0.11232 30.65 342.20)" font-family="Liberation Sans" font-size="200" fill="#000" stroke="#000" stroke-width="3.96">10</text>
<text transform="matrix(0.07875 0 0 0.10000 60.99 335.40)" font-family="Liberation Sans" font-size="200" fill="#585858" stroke="#585858" stroke-width="1.12">-6</text>
<text transform="matrix(0.11475 0 0 0.11232 30.65 394.20)" font-family="Liberation Sans" font-size="200" fill="#000" stroke="#000" stroke-width="3.96">10</text>
<text transform="matrix(0.07875 0 0 0.10000 60.99 387.40)" font-family="Liberation Sans" font-size="200" fill="#585858" stroke="#585858" stroke-width="1.12">-7</text>
<text transform="matrix(0.11475 0 0 0.11232 30.65 446.20)" font-family="Liberation Sans" font-size="200" fill="#000" stroke="#000" stroke-width="3.96">10</text>
<text transform="matrix(0.07875 0 0 0.10000 60.99 439.40)" font-family="Liberation Sans" font-size="200" fill="#585858" stroke="#585858" stroke-width="1.12">-8</text>
<text transform="matrix(0.10775 0 0 0.11021 772.76 46.60)" font-family="Liberation Sans" font-size="200" fill="#000" stroke="#000" stroke-width="4.13">10</text>
<text transform="matrix(0.09479 0 0 0.09859 800.84 39.60)" font-family="Liberation Sans" font-size="200" fill="#505050" stroke="#505050" stroke-width="1.03">0</text>
<text transform="matrix(0.11475 0 0 0.11232 765.35 146.65)" font-family="Liberation Sans" font-size="200" fill="#000" stroke="#000" stroke-width="3.96">10</text>
<text transform="matrix(0.07875 0 0 0.10000 795.69 139.85)" font-family="Liberation Sans" font-size="200" fill="#585858" stroke="#585858" stroke-width="1.12">-1</text>
<text transform="matrix(0.11475 0 0 0.11232 765.35 246.40)" font-family="Liberation Sans" font-size="200" fill="#000" stroke="#000" stroke-width="3.96">10</text>
<text transform="matrix(0.07875 0 0 0.10000 795.69 239.60)" font-family="Liberation Sans" font-size="200" fill="#585858" stroke="#585858" stroke-width="1.12">-2</text>
<text transform="matrix(0.11475 0 0 0.11232 765.35 346.15)" font-family="Liberation Sans" font-size="200" fill="#000" stroke="#000" stroke-width="3.96">10</text>
<text transform="matrix(0.07875 0 0 0.10000 795.69 339.35)" font-family="Liberation Sans" font-size="200" fill="#585858" stroke="#585858" stroke-width="1.12">-3</text>
<text transform="matrix(0.11475 0 0 0.11232 765.35 445.90)" font-family="Liberation Sans" font-size="200" fill="#000" stroke="#000" stroke-width="3.96">10</text>
<text transform="matrix(0.07875 0 0 0.10000 795.69 439.10)" font-family="Liberation Sans" font-size="200" fill="#585858" stroke="#585858" stroke-width="1.12">-4</text>
<text transform="matrix(0.09598 0 0 0.11196 85.59 465.62)" font-family="Liberation Sans" font-size="200" fill="#000" stroke="#000" stroke-width="4.33">1</text>
<text transform="matrix(0.11725 0 0 0.10880 220.32 465.41)" font-family="Liberation Sans" font-size="200" fill="#000" stroke="#000" stroke-width="3.98">10</text>
<text transform="matrix(0.11849 0 0 0.10880 356.20 465.41)" font-family="Liberation Sans" font-size="200" fill="#000" stroke="#000" stroke-width="3.96">100</text>
<text transform="matrix(0.11856 0 0 0.10880 492.15 465.41)" font-family="Liberation Sans" font-size="200" fill="#000" stroke="#000" stroke-width="3.96">1000</text>
<text transform="matrix(0.11901 0 0 0.10880 628.04 465.41)" font-family="Liberation Sans" font-size="200" fill="#000" stroke="#000" stroke-width="3.95">10000</text>
<text transform="matrix(0.09598 0 0 0.11196 821.29 465.62)" font-family="Liberation Sans" font-size="200" fill="#000" stroke="#000" stroke-width="4.33">1</text>
<text transform="matrix(0.11725 0 0 0.10880 952.02 465.41)" font-family="Liberation Sans" font-size="200" fill="#000" stroke="#000" stroke-width="3.98">10</text>
<text transform="matrix(0.11849 0 0 0.10880 1083.90 465.41)" font-family="Liberation Sans" font-size="200" fill="#000" stroke="#000" stroke-width="3.96">100</text>
<text transform="matrix(0.11856 0 0 0.10880 1215.85 465.41)" font-family="Liberation Sans" font-size="200" fill="#000" stroke="#000" stroke-width="3.96">1000</text>
<text transform="matrix(0.11901 0 0 0.10880 1347.74 465.41)" font-family="Liberation Sans" font-size="200" fill="#000" stroke="#000" stroke-width="3.95">10000</text>
<text transform="matrix(0.14513 0 0 0.13864 319.94 496.20)" font-family="Liberation Serif" font-size="200" fill="#000" stroke="#000" stroke-width="3.52">Δ</text>
<text transform="matrix(0.16373 0 0 0.14735 341.63 496.08)" font-family="Liberation Sans" font-size="200" fill="#000" stroke="#000" stroke-width="2.25">t</text>
<text transform="matrix(0.11981 0 0 0.13717 361.34 494.06)" font-family="Liberation Sans" font-size="200" fill="#000" stroke="#000" stroke-width="3.50">(</text>
<text transform="matrix(0.15035 0 0 0.13241 373.15 496.10)" font-family="Liberation Sans" font-size="200" fill="#000" stroke="#000" stroke-width="2.12">m</text>
<text transform="matrix(0.13161 0 0 0.13532 401.89 496.15)" font-family="Liberation Sans" font-size="200" fill="#000" stroke="#000" stroke-width="3.37">s</text>
<text transform="matrix(0.11981 0 0 0.13717 417.26 494.06)" font-family="Liberation Sans" font-size="200" fill="#000" stroke="#000" stroke-width="3.50">)</text>
<text transform="matrix(0.14513 0 0 0.13864 1047.44 496.20)" font-family="Liberation Serif" font-size="200" fill="#000" stroke="#000" stroke-width="3.52">Δ</text>
<text transform="matrix(0.16373 0 0 0.14735 1069.13 496.08)" font-family="Liberation Sans" font-size="200" fill="#000" stroke="#000" stroke-width="2.25">t</text>
<text transform="matrix(0.11981 0 0 0.13717 1088.84 494.06)" font-family="Liberation Sans" font-size="200" fill="#000" stroke="#000" stroke-width="3.50">(</text>
<text transform="matrix(0.15035 0 0 0.13241 1100.65 496.10)" font-family="Liberation Sans" font-size="200" fill="#000" stroke="#000" stroke-width="2.12">m</text>
<text transform="matrix(0.13161 0 0 0.13532 1129.39 496.15)" font-family="Liberation Sans" font-size="200" fill="#000" stroke="#000" stroke-width="3.37">s</text>
<text transform="matrix(0.11981 0 0 0.13717 1144.76 494.06)" font-family="Liberation Sans" font-size="200" fill="#000" stroke="#000" stroke-width="3.50">)</text>
<g transform="translate(28.20,260.70) rotate(-90)">
<text transform="matrix(0.11542 0 0 0.14891 -1.37 -0.48)" font-family="Liberation Sans" font-size="200" fill="#000" stroke="#000" stroke-width="3.40">P</text>
<text transform="matrix(0.16604 0 0 0.13476 13.01 -1.76)" font-family="Liberation Sans" font-size="200" fill="#000" stroke="#000" stroke-width="1.99">(</text>
<text transform="matrix(0.10973 0 0 0.13485 24.82 -0.50)" font-family="Liberation Serif" font-size="200" fill="#000" stroke="#000" stroke-width="4.09">Δ</text>
<text transform="matrix(0.17941 0 0 0.15795 41.49 -0.54)" font-family="Liberation Sans" font-size="200" fill="#000" stroke="#000" stroke-width="2.07">t</text>
<text transform="matrix(0.16792 0 0 0.13476 55.13 -1.76)" font-family="Liberation Sans" font-size="200" fill="#000" stroke="#000" stroke-width="1.98">)</text>
</g>
<g transform="translate(759.00,262.50) rotate(-90)">
<text transform="matrix(0.11542 0 0 0.14891 -1.37 -0.48)" font-family="Liberation Sans" font-size="200" fill="#000" stroke="#000" stroke-width="3.40">P</text>
<text transform="matrix(0.16604 0 0 0.13476 13.01 -1.76)" font-family="Liberation Sans" font-size="200" fill="#000" stroke="#000" stroke-width="1.99">(</text>
<text transform="matrix(0.10973 0 0 0.13485 24.82 -0.50)" font-family="Liberation Serif" font-size="200" fill="#000" stroke="#000" stroke-width="4.09">Δ</text>
<text transform="matrix(0.17941 0 0 0.15795 41.49 -0.54)" font-family="Liberation Sans" font-size="200" fill="#000" stroke="#000" stroke-width="2.07">t</text>
<text transform="matrix(0.16792 0 0 0.13476 55.13 -1.76)" font-family="Liberation Sans" font-size="200" fill="#000" stroke="#000" stroke-width="1.98">)</text>
</g>
<rect x="730.5" y="250.6" width="2.5" height="9.5" fill="#111"/>
<text transform="matrix(0.13805 0 0 0.13258 189.00 82.30)" font-family="Liberation Serif" font-size="200" fill="#000" stroke="#000" stroke-width="3.70">Δ</text>
<text transform="matrix(0.16176 0 0 0.15795 210.14 82.36)" font-family="Liberation Sans" font-size="200" fill="#000" stroke="#000" stroke-width="2.19">t</text>
<text transform="matrix(0.11584 0 0 0.10246 224.03 71.42)" font-family="Liberation Sans" font-size="200" fill="#000" stroke="#000" stroke-width="4.12">-3</text>
<text transform="matrix(0.13451 0 0 0.13333 922.72 77.30)" font-family="Liberation Serif" font-size="200" fill="#000" stroke="#000" stroke-width="3.73">Δ</text>
<text transform="matrix(0.16569 0 0 0.16023 943.93 77.25)" font-family="Liberation Sans" font-size="200" fill="#000" stroke="#000" stroke-width="2.15">t</text>
<text transform="matrix(0.10283 0 0 0.10750 958.45 66.53)" font-family="Liberation Sans" font-size="200" fill="#000" stroke="#000" stroke-width="4.28">-2</text>
<text transform="matrix(0.10491 0 0 0.10399 506.70 55.12)" font-family="Liberation Sans" font-size="200" fill="#000" stroke="#000" stroke-width="4.31">H</text>
<text transform="matrix(0.08854 0 0 0.08099 524.19 60.44)" font-family="Liberation Sans" font-size="200" fill="#505050" stroke="#505050" stroke-width="1.18">0</text>
<text transform="matrix(0.10625 0 0 0.10850 536.98 56.01)" font-family="Liberation Sans" font-size="200" fill="#000" stroke="#000" stroke-width="4.19">/</text>
<text transform="matrix(0.09891 0 0 0.10669 547.68 55.41)" font-family="Liberation Sans" font-size="200" fill="#000" stroke="#000" stroke-width="2.43">Θ</text>
<text transform="matrix(0.14485 0 0 0.09154 565.53 55.55)" font-family="Liberation Sans" font-size="200" fill="#000" stroke="#000" stroke-width="3.81">=</text>
<text transform="matrix(0.12294 0 0 0.10739 583.09 55.31)" font-family="Liberation Sans" font-size="200" fill="#000" stroke="#000" stroke-width="3.91">0.214</text>
<text transform="matrix(0.10491 0 0 0.10399 506.70 75.68)" font-family="Liberation Sans" font-size="200" fill="#000" stroke="#000" stroke-width="4.31">H</text>
<text transform="matrix(0.08854 0 0 0.08099 524.19 80.99)" font-family="Liberation Sans" font-size="200" fill="#505050" stroke="#505050" stroke-width="1.18">0</text>
<text transform="matrix(0.10625 0 0 0.10850 536.98 76.56)" font-family="Liberation Sans" font-size="200" fill="#000" stroke="#000" stroke-width="4.19">/</text>
<text transform="matrix(0.09891 0 0 0.10669 547.68 75.96)" font-family="Liberation Sans" font-size="200" fill="#000" stroke="#000" stroke-width="2.43">Θ</text>
<text transform="matrix(0.14485 0 0 0.09154 565.53 76.10)" font-family="Liberation Sans" font-size="200" fill="#000" stroke="#000" stroke-width="3.81">=</text>
<text transform="matrix(0.12294 0 0 0.10739 583.09 75.86)" font-family="Liberation Sans" font-size="200" fill="#000" stroke="#000" stroke-width="3.91">0.221</text>
<text transform="matrix(0.10491 0 0 0.10399 506.70 96.23)" font-family="Liberation Sans" font-size="200" fill="#000" stroke="#000" stroke-width="4.31">H</text>
<text transform="matrix(0.08854 0 0 0.08099 524.19 101.54)" font-family="Liberation Sans" font-size="200" fill="#505050" stroke="#505050" stroke-width="1.18">0</text>
<text transform="matrix(0.10625 0 0 0.10850 536.98 97.11)" font-family="Liberation Sans" font-size="200" fill="#000" stroke="#000" stroke-width="4.19">/</text>
<text transform="matrix(0.09891 0 0 0.10669 547.68 96.51)" font-family="Liberation Sans" font-size="200" fill="#000" stroke="#000" stroke-width="2.43">Θ</text>
<text transform="matrix(0.14485 0 0 0.09154 565.53 96.65)" font-family="Liberation Sans" font-size="200" fill="#000" stroke="#000" stroke-width="3.81">=</text>
<text transform="matrix(0.12294 0 0 0.10739 583.09 96.41)" font-family="Liberation Sans" font-size="200" fill="#000" stroke="#000" stroke-width="3.91">0.228</text>
<text transform="matrix(0.10491 0 0 0.10399 1217.80 39.12)" font-family="Liberation Sans" font-size="200" fill="#000" stroke="#000" stroke-width="4.31">H</text>
<text transform="matrix(0.08854 0 0 0.08099 1235.29 44.44)" font-family="Liberation Sans" font-size="200" fill="#505050" stroke="#505050" stroke-width="1.18">0</text>
<text transform="matrix(0.10625 0 0 0.10850 1248.07 40.01)" font-family="Liberation Sans" font-size="200" fill="#000" stroke="#000" stroke-width="4.19">/</text>
<text transform="matrix(0.09891 0 0 0.10669 1258.78 39.41)" font-family="Liberation Sans" font-size="200" fill="#000" stroke="#000" stroke-width="2.43">Θ</text>
<text transform="matrix(0.14485 0 0 0.09154 1276.63 39.55)" font-family="Liberation Sans" font-size="200" fill="#000" stroke="#000" stroke-width="3.81">=</text>
<text transform="matrix(0.12294 0 0 0.10739 1294.19 39.31)" font-family="Liberation Sans" font-size="200" fill="#000" stroke="#000" stroke-width="3.91">0.214</text>
<text transform="matrix(0.10491 0 0 0.10399 1217.80 59.68)" font-family="Liberation Sans" font-size="200" fill="#000" stroke="#000" stroke-width="4.31">H</text>
<text transform="matrix(0.08854 0 0 0.08099 1235.29 64.99)" font-family="Liberation Sans" font-size="200" fill="#505050" stroke="#505050" stroke-width="1.18">0</text>
<text transform="matrix(0.10625 0 0 0.10850 1248.07 60.56)" font-family="Liberation Sans" font-size="200" fill="#000" stroke="#000" stroke-width="4.19">/</text>
<text transform="matrix(0.09891 0 0 0.10669 1258.78 59.96)" font-family="Liberation Sans" font-size="200" fill="#000" stroke="#000" stroke-width="2.43">Θ</text>
<text transform="matrix(0.14485 0 0 0.09154 1276.63 60.10)" font-family="Liberation Sans" font-size="200" fill="#000" stroke="#000" stroke-width="3.81">=</text>
<text transform="matrix(0.12294 0 0 0.10739 1294.19 59.86)" font-family="Liberation Sans" font-size="200" fill="#000" stroke="#000" stroke-width="3.91">0.221</text>
<text transform="matrix(0.10491 0 0 0.10399 1217.80 80.23)" font-family="Liberation Sans" font-size="200" fill="#000" stroke="#000" stroke-width="4.31">H</text>
<text transform="matrix(0.08854 0 0 0.08099 1235.29 85.54)" font-family="Liberation Sans" font-size="200" fill="#505050" stroke="#505050" stroke-width="1.18">0</text>
<text transform="matrix(0.10625 0 0 0.10850 1248.07 81.11)" font-family="Liberation Sans" font-size="200" fill="#000" stroke="#000" stroke-width="4.19">/</text>
<text transform="matrix(0.09891 0 0 0.10669 1258.78 80.51)" font-family="Liberation Sans" font-size="200" fill="#000" stroke="#000" stroke-width="2.43">Θ</text>
<text transform="matrix(0.14485 0 0 0.09154 1276.63 80.65)" font-family="Liberation Sans" font-size="200" fill="#000" stroke="#000" stroke-width="3.81">=</text>
<text transform="matrix(0.12294 0 0 0.10739 1294.19 80.41)" font-family="Liberation Sans" font-size="200" fill="#000" stroke="#000" stroke-width="3.91">0.228</text>
<text transform="matrix(0.12935 0 0 0.11875 474.67 134.16)" font-family="Liberation Serif" font-size="200" fill="#000" stroke="#000" stroke-width="4.03">α</text>
<text transform="matrix(0.13660 0 0 0.08077 490.61 132.59)" font-family="Liberation Sans" font-size="200" fill="#000" stroke="#000" stroke-width="4.14">=</text>
<text transform="matrix(0.11542 0 0 0.11021 508.05 134.20)" font-family="Liberation Sans" font-size="200" fill="#000" stroke="#000" stroke-width="3.99">0.06</text>
<text transform="matrix(0.11073 0 0 0.10409 563.94 134.22)" font-family="Liberation Sans" font-size="200" fill="#000" stroke="#000" stroke-width="4.19">ms</text>
<text transform="matrix(0.08187 0 0 0.09420 597.71 127.85)" font-family="Liberation Sans" font-size="200" fill="#707070">-1</text>
<text transform="matrix(0.12935 0 0 0.11875 1199.27 145.66)" font-family="Liberation Serif" font-size="200" fill="#000" stroke="#000" stroke-width="4.03">α</text>
<text transform="matrix(0.13660 0 0 0.08077 1215.21 144.09)" font-family="Liberation Sans" font-size="200" fill="#000" stroke="#000" stroke-width="4.14">=</text>
<text transform="matrix(0.11542 0 0 0.11021 1232.65 145.70)" font-family="Liberation Sans" font-size="200" fill="#000" stroke="#000" stroke-width="3.99">0.06</text>
<text transform="matrix(0.11073 0 0 0.10409 1288.54 145.72)" font-family="Liberation Sans" font-size="200" fill="#000" stroke="#000" stroke-width="4.19">ms</text>
<text transform="matrix(0.08187 0 0 0.09420 1322.31 139.35)" font-family="Liberation Sans" font-size="200" fill="#707070">-1</text>
</svg>
</body></html>
